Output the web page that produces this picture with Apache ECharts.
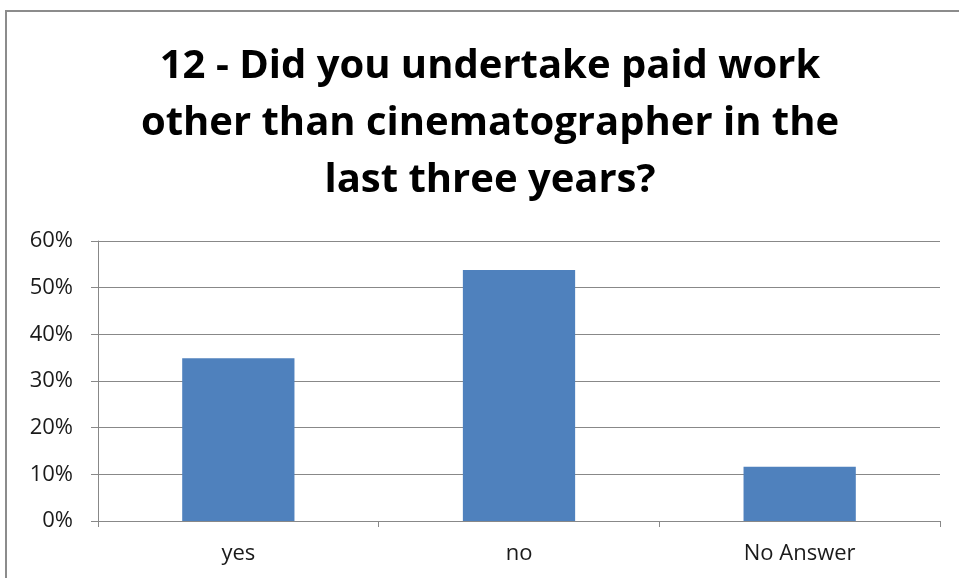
<!DOCTYPE html>
<html>
<head>
<meta charset="utf-8">
<script src="https://cdn.jsdelivr.net/npm/echarts@6/dist/echarts.min.js"></script>
<style>
    html, body { margin: 0; padding: 0; background: #fff; }
    #chart { width: 959px; height: 578px; }
    #frame { position: absolute; left: 5px; top: 10px; right: 0; bottom: 0; border-left: 2px solid #8c8c8c; border-top: 2px solid #8c8c8c; pointer-events: none; }
</style>
</head>
<body>
<div id="chart"></div>
<div id="frame"></div>
<script>
var titleText = '12 - Did you undertake paid work\nother than cinematographer in the\nlast three years?';
var categories = ['yes', 'no', 'No Answer'];
var values = [0.349, 0.538, 0.116];
var yTicks = { min: 0, max: 0.6, interval: 0.1 };

var chart = echarts.init(document.getElementById('chart'));
chart.setOption({
    animation: false,
    title: {
        text: titleText,
        left: 485,
        top: 33,
        textAlign: 'center',
        textStyle: { fontFamily: 'Open Sans', fontWeight: 'bold', fontSize: 40, lineHeight: 57, color: '#000' }
    },
    grid: { left: 98, right: 19, top: 241, bottom: 57 },
    xAxis: {
        type: 'category',
        data: categories,
        axisLine: { lineStyle: { color: '#888', width: 1 } },
        axisTick: { show: true, length: 6, lineStyle: { color: '#888' } },
        axisLabel: { color: '#1a1a1a', fontFamily: 'Open Sans', fontSize: 22, margin: 22 }
    },
    yAxis: {
        type: 'value',
        min: yTicks.min,
        max: yTicks.max,
        interval: yTicks.interval,
        axisLine: { show: true, lineStyle: { color: '#888', width: 1 } },
        axisTick: { show: true, length: 7, lineStyle: { color: '#888' } },
        splitLine: { lineStyle: { color: '#888', width: 1 } },
        axisLabel: {
            color: '#1a1a1a', fontFamily: 'Open Sans', fontSize: 22, margin: 25,
            formatter: function (v) { return Math.round(v * 100) + '%'; }
        }
    },
    series: [{
        type: 'bar',
        data: values,
        barWidth: '40%',
        itemStyle: { color: '#4f81bd' }
    }]
});
</script>
</body>
</html>
